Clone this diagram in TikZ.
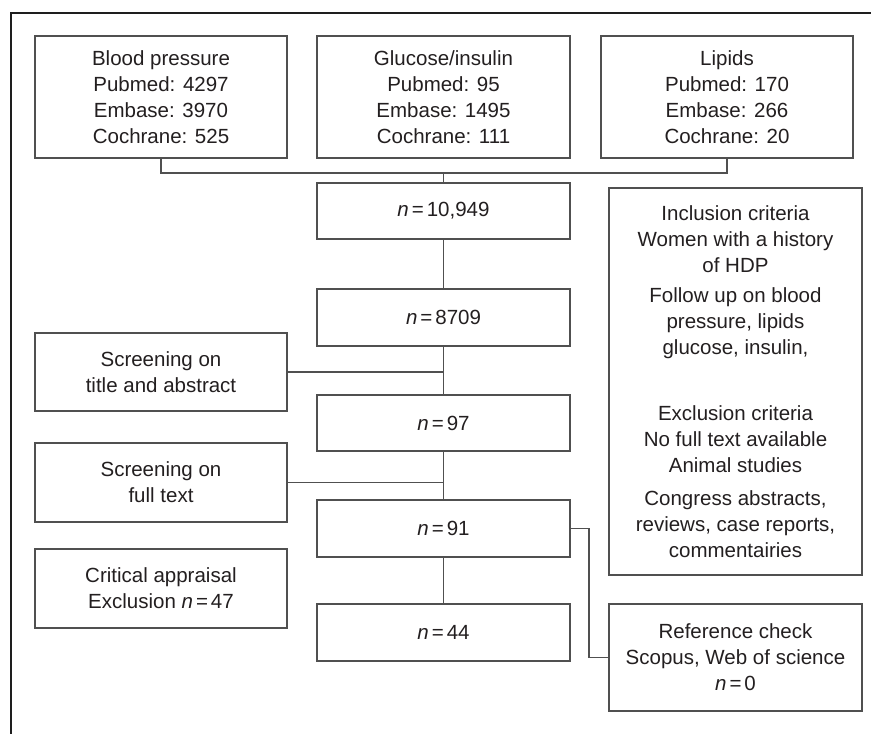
\documentclass[tikz,border=0pt]{standalone}
\usepackage{fontspec}
\setmainfont{Liberation Sans}
\definecolor{txt}{HTML}{231F20}
\definecolor{boxline}{HTML}{505050}
\definecolor{frame}{HTML}{1E1E1E}
\newcommand{\nn}{\textit{n}\kern3bp=\kern3bp}
\begin{document}
\begin{tikzpicture}[x=1bp,y=-1bp,
  every node/.style={text=txt,font=\fontsize{20.5bp}{26bp}\selectfont},
  fbox/.style={draw=boxline,line width=1.4bp,rectangle,align=center,inner sep=0pt},
  colbox/.style={fbox,minimum width=253bp},
  conn/.style={draw=boxline,line width=1.4bp}]
\useasboundingbox (0,0) rectangle (871,734);
\fill[white] (0,0) rectangle (871,734);
% outer frame (partial)
\draw[frame,line width=2.2bp] (11,734) -- (11,13) -- (871,13);
% top boxes
\node[colbox,minimum width=252bp,minimum height=122bp] (bp) at (161,97) {Blood pressure\\Pubmed: 4297\\Embase: 3970\\Cochrane: 525};
\node[colbox,minimum height=122bp] (glu) at (443.5,97) {Glucose/insulin\\Pubmed: 95\\Embase: 1495\\Cochrane: 111};
\node[colbox,minimum width=252bp,minimum height=122bp] (lip) at (727,97) {Lipids\\Pubmed: 170\\Embase: 266\\Cochrane: 20};
% main column
\node[colbox,minimum height=56bp] (n1) at (443.5,211) {\nn10,949};
\node[colbox,minimum height=57bp] (n2) at (443.5,317.5) {\nn8709};
\node[colbox,minimum height=56bp] (n3) at (443.5,423) {\nn97};
\node[colbox,minimum height=57bp] (n4) at (443.5,528.5) {\nn91};
\node[colbox,minimum height=57bp] (n5) at (443.5,632.5) {\nn44};
% left column
\node[colbox,minimum width=252bp,minimum height=78bp] (scr1) at (161,372) {Screening on\\title and abstract};
\node[colbox,minimum width=252bp,minimum height=79bp] (scr2) at (161,482.5) {Screening on\\full text};
\node[colbox,minimum width=252bp,minimum height=79bp] (crit) at (161,588.5) {Critical appraisal\\Exclusion \nn47};
% right column
\node[colbox,minimum height=387bp] (incl) at (735.5,381.5) {Inclusion criteria\\Women with a history\\of HDP\\[4bp]Follow up on blood\\pressure, lipids\\glucose, insulin,\\[40bp]Exclusion criteria\\No full text available\\Animal studies\\[7bp]Congress abstracts,\\reviews, case reports,\\commentairies};
\node[colbox,minimum height=107bp] (ref) at (735.5,657.5) {Reference check\\Scopus, Web of science\\\nn0};
% connectors
\coordinate (hub) at (443.5,173);
\draw[conn] (bp.south) |- (hub) -| (lip.south);
\draw[conn] (hub) -- (n1.north);
\draw[conn] (n1.south) -- (n2.north);
\draw[conn] (n2.south) -- (n3.north);
\draw[conn] (scr1.east) -- (n2.south |- scr1.east);
\draw[conn] (n3.south) -- (n4.north);
\draw[conn] (scr2.east) -- (n3.south |- scr2.east);
\draw[conn] (n4.south) -- (n5.north);
\coordinate (bend) at (589,528.5);
\draw[conn] (n4.east) -- (bend) |- (ref.west);
\end{tikzpicture}
\end{document}
